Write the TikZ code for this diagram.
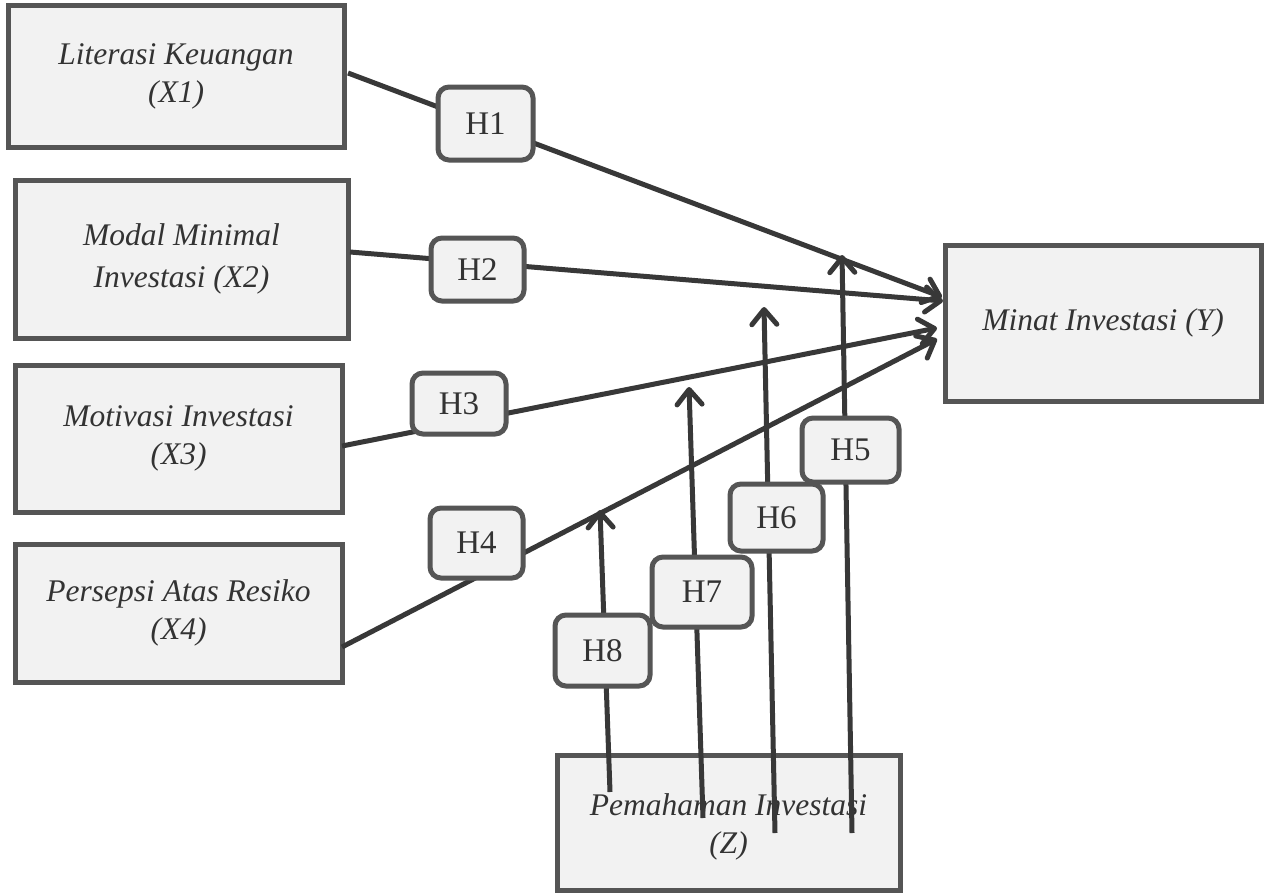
\documentclass[tikz,border=0pt]{standalone}
\usepackage{fontspec}
\setmainfont{Liberation Serif}
\usetikzlibrary{arrows.meta,shadows}
\definecolor{boxfill}{HTML}{F2F2F2}
\definecolor{boxline}{HTML}{555555}
\definecolor{arrowc}{HTML}{383838}
\definecolor{txt}{HTML}{333333}
\begin{document}
\begin{tikzpicture}[x=1pt,y=-1pt,
  varbox/.style={draw=boxline, line width=5pt, fill=boxfill, align=center, text=txt,
    font=\fontsize{31.5}{38}\selectfont\itshape, inner sep=0pt,
    drop shadow={shadow xshift=2pt,shadow yshift=-2pt,opacity=0.15}},
  hbox/.style={draw=boxline, line width=5pt, fill=boxfill, rounded corners=11pt, text=txt,
    font=\fontsize{33}{38}\selectfont, inner sep=0pt,
    drop shadow={shadow xshift=2pt,shadow yshift=-2pt,opacity=0.15}},
  conn/.style={draw=arrowc, line width=5pt},
  tip/.style={-{Straight Barb[length=15pt,width=25pt,line join=round,line cap=round]}}
]
\path[use as bounding box, fill=white] (0,0) rectangle (1264,892);

% variable boxes
\node[varbox, minimum width=336pt, minimum height=142pt] (X1) at (176,76) {Literasi Keuangan\\(X1)};
\node[varbox, minimum width=333pt, minimum height=158pt, font=\fontsize{31.5}{42}\selectfont\itshape] (X2) at (181.5,259) {Modal Minimal\\Investasi (X2)};
\node[varbox, minimum width=327pt, minimum height=147pt] (X3) at (178.5,438.5) {Motivasi Investasi\\(X3)};
\node[varbox, minimum width=327pt, minimum height=138pt] (X4) at (178.5,613) {Persepsi Atas Resiko\\(X4)};
\node[varbox, minimum width=316pt, minimum height=156pt] (Y) at (1103,323) {Minat Investasi (Y)};
\node[varbox, minimum width=343pt, minimum height=135pt] (Z) at (728.5,823) {\rule{0pt}{30pt}Pemahaman Investasi\\(Z)};

% connector end points
\coordinate (s1) at (348,73);  \coordinate (t1) at (942,297);
\coordinate (s2) at (350,252); \coordinate (t2) at (943,301);
\coordinate (s3) at (342,446); \coordinate (t3) at (937,328);
\coordinate (s4) at (342,647); \coordinate (t4) at (937,339);
\coordinate (z8) at (610,792); \coordinate (e8) at (600,510);
\coordinate (z7) at (703,818); \coordinate (e7) at (689,387);
\coordinate (z6) at (775,833); \coordinate (e6) at (764,307);
\coordinate (z5) at (852,833); \coordinate (e5) at (842,255);

% connectors
\draw[conn,tip] (s1) -- (t1);
\draw[conn,tip] (s2) -- (t2);
\draw[conn,tip] (s3) -- (t3);
\draw[conn,tip] (s4) -- (t4);
\draw[conn,tip] (z8) -- (e8);
\draw[conn,tip] (z7) -- (e7);
\draw[conn,tip] (z6) -- (e6);
\draw[conn,tip] (z5) -- (e5);

% hypothesis labels
\node[hbox, minimum width=95pt, minimum height=73pt] (H1) at (485.5,123.5) {H1};
\node[hbox, minimum width=93pt, minimum height=63pt] (H2) at (477.5,269.5) {H2};
\node[hbox, minimum width=94pt, minimum height=61pt] (H3) at (459,403.5) {H3};
\node[hbox, minimum width=93pt, minimum height=70pt] (H4) at (476.5,543) {H4};
\node[hbox, minimum width=97pt, minimum height=64pt] (H5) at (850.5,450) {H5};
\node[hbox, minimum width=93pt, minimum height=67pt] (H6) at (776.5,517.5) {H6};
\node[hbox, minimum width=100pt, minimum height=70pt] (H7) at (702,592) {H7};
\node[hbox, minimum width=95pt, minimum height=71pt] (H8) at (602.5,650.5) {H8};
\end{tikzpicture}
\end{document}
